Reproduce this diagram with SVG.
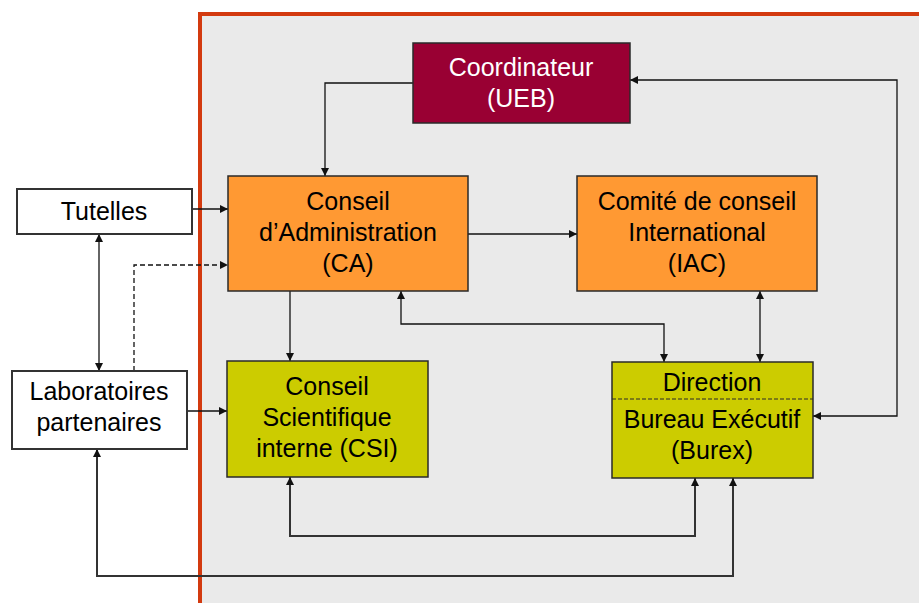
<svg xmlns="http://www.w3.org/2000/svg" width="919" height="603" viewBox="0 0 919 603">
<style>
text{font-family:"Liberation Sans",Arial,sans-serif;font-size:25px;text-anchor:middle;fill:#000}
.box{stroke:#2a2a2a;stroke-width:1.5}
.wb{fill:#fff;stroke:#333;stroke-width:2}
.c{fill:none;stroke:#111;stroke-width:1.3}
.t{fill:none;stroke:#333;stroke-width:2}
</style>
<defs>
<marker id="a" viewBox="0 0 10 10" refX="10" refY="5" markerWidth="9" markerHeight="8" markerUnits="userSpaceOnUse" orient="auto-start-reverse">
<path d="M0,0 L10,5 L0,10 z" fill="#111"/>
</marker>
</defs>
<rect x="0" y="0" width="919" height="603" fill="#fff"/>
<rect x="200" y="14" width="800" height="700" fill="#EAEAEA" stroke="#D33A0F" stroke-width="4"/>

<g id="connectors">
<polyline class="c" points="413,83 325,83 325,176" marker-end="url(#a)"/>
<polyline class="c" points="813,416 897,416 897,80 630,80" marker-start="url(#a)" marker-end="url(#a)"/>
<line class="c" x1="192" y1="209" x2="228" y2="209" marker-end="url(#a)"/>
<polyline class="c" points="134,371 134,265 228,265" stroke-dasharray="5,3" marker-end="url(#a)"/>
<line class="c" x1="99" y1="234" x2="99" y2="371" marker-start="url(#a)" marker-end="url(#a)"/>
<line class="c" x1="187" y1="411" x2="227" y2="411" marker-end="url(#a)"/>
<line class="c" x1="468" y1="234" x2="577" y2="234" marker-end="url(#a)"/>
<line class="c" x1="290" y1="291" x2="290" y2="361" marker-end="url(#a)"/>
<polyline class="c" points="401,291 401,324 664,324 664,362" marker-start="url(#a)" marker-end="url(#a)"/>
<line class="c" x1="760" y1="291" x2="760" y2="362" marker-start="url(#a)" marker-end="url(#a)"/>
<polyline class="t" points="290,477 290,536 695,536 695,478" marker-start="url(#a)" marker-end="url(#a)"/>
<polyline class="t" points="97,449 97,576 733,576 733,478" marker-start="url(#a)" marker-end="url(#a)"/>
</g>

<g id="coordinateur">
<rect class="box" x="413" y="43" width="217" height="80" fill="#990033"/>
<text x="521" y="76" style="fill:#fff">Coordinateur</text>
<text x="521" y="107" style="fill:#fff">(UEB)</text>
</g>

<g id="ca">
<rect class="box" x="228" y="176" width="240" height="115" fill="#FF9933"/>
<text x="348" y="210">Conseil</text>
<text x="348" y="241">d’Administration</text>
<text x="348" y="272">(CA)</text>
</g>

<g id="iac">
<rect class="box" x="577" y="176" width="240" height="115" fill="#FF9933"/>
<text x="697" y="210">Comité de conseil</text>
<text x="697" y="241">International</text>
<text x="697" y="272">(IAC)</text>
</g>

<g id="tutelles">
<rect class="wb" x="17" y="189" width="175" height="45"/>
<text x="104" y="220">Tutelles</text>
</g>

<g id="labs">
<rect class="wb" x="12" y="371" width="175" height="78"/>
<text x="99" y="400">Laboratoires</text>
<text x="99" y="431">partenaires</text>
</g>

<g id="csi">
<rect class="box" x="227" y="361" width="201" height="116" fill="#CCCC00"/>
<text x="327" y="395">Conseil</text>
<text x="327" y="426">Scientifique</text>
<text x="327" y="457">interne (CSI)</text>
</g>

<g id="burex">
<rect class="box" x="612" y="362" width="201" height="116" fill="#CCCC00"/>
<line x1="612" y1="399" x2="813" y2="399" stroke="#2a2a2a" stroke-width="1.2" stroke-dasharray="4,2"/>
<text x="712" y="391">Direction</text>
<text x="712" y="428">Bureau Exécutif</text>
<text x="712" y="459">(Burex)</text>
</g>
</svg>
